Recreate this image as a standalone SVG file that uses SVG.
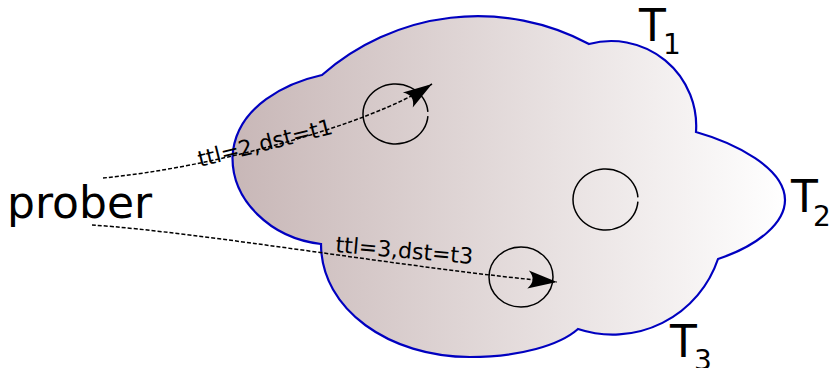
<svg xmlns="http://www.w3.org/2000/svg" width="832" height="368" viewBox="0 0 832 368">
<style>
.lbl{font-family:"DejaVu Sans","Bitstream Vera Sans",sans-serif;fill:#000}
.hop{fill:none;stroke:#000;stroke-width:1.5}
.conn{fill:none;stroke:#000;stroke-width:1.5;stroke-dasharray:4,2}
</style>
<defs>
<linearGradient id="cloudGrad" gradientUnits="userSpaceOnUse" x1="232" y1="0" x2="786" y2="0">
<stop offset="0" stop-color="#c8b7b7"/>
<stop offset="1" stop-color="#ffffff"/>
</linearGradient>
<marker id="arrow" markerUnits="userSpaceOnUse" orient="auto" refX="0" refY="0" markerWidth="40" markerHeight="40" overflow="visible">
<path d="M0,0 L-29,-9 C-23,-3 -23,3 -29,9 Z" fill="#000"/>
</marker>
</defs>
<g id="cloud">
<path d="M321,244 C270,238 232,200 232.5,157 C235,105 290,82 322,75 A236 236 0 0 1 589,44 A85 85 0 0 1 696,132 C735,143 785,168 785,200 C785,222 760,245 718,259 A111 111 0 0 1 578,329 C560,345 520,357 470,357 C390,357 321,310 321,244 Z" fill="url(#cloudGrad)" stroke="#0000c0" stroke-width="2.2" stroke-linejoin="miter"/>
</g>
<g id="hop1"><path class="hop" d="M427.9,116.1 A32.5 30 0 1 1 427.9,111.9"/></g>
<g id="hop2"><path class="hop" d="M637.9,201.6 A32.5 30.5 0 1 1 637.9,197.4"/></g>
<g id="hop3"><ellipse class="hop" cx="521" cy="277" rx="32" ry="30"/></g>
<g id="prober"><text class="lbl" x="7" y="218" font-size="44">prober</text></g>
<g id="T1"><text class="lbl" x="639" y="41" font-size="44">T<tspan font-size="28" dx="-3" dy="13">1</tspan></text></g>
<g id="T2"><text class="lbl" x="791" y="212" font-size="44">T<tspan font-size="28" dx="-5" dy="14">2</tspan></text></g>
<g id="T3"><text class="lbl" x="670" y="357" font-size="44">T<tspan font-size="28" dx="-3" dy="13">3</tspan></text></g>
<g id="connectors">
<path class="conn" d="M103,178 C210,168 370,125 432,84" marker-end="url(#arrow)"/>
<path class="conn" d="M92,225 C200,232 420,270 557,282" marker-end="url(#arrow)"/>
<text class="lbl" font-size="22" transform="translate(200,167) rotate(-14)">ttl=2,dst=t1</text>
<text class="lbl" font-size="22" transform="translate(335,252) rotate(5)">ttl=3,dst=t3</text>
</g>
</svg>
